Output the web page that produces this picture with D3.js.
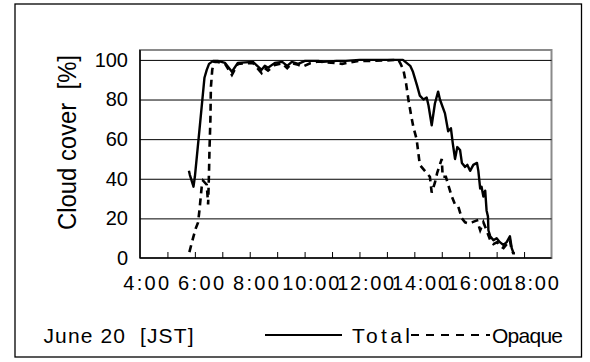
<!DOCTYPE html>
<html>
<head>
<meta charset="utf-8">
<script src="https://cdn.jsdelivr.net/npm/d3@7"></script>
<style>
  html, body { margin: 0; padding: 0; background: #fff; }
  svg { display: block; }
  text { font-family: "Liberation Sans", Arial, sans-serif; fill: #000; }
</style>
</head>
<body>
<svg id="chart" width="590" height="362"></svg>
<script>
// Cloud cover through the day, June 20 (JST)
const totalTimes = ["5:17","5:19","5:27","5:30","5:41","5:51","5:56","6:01","6:10","6:20","6:36","6:51","7:04","7:37","7:56","8:03","8:10","8:25","8:41","8:52","9:02","9:16","9:31","10:00","10:10","10:40","11:00","11:30","12:00","12:30","13:05","13:21","13:27","13:36","13:42","13:50","13:57","14:01","14:08","14:15","14:22","14:26","14:37","14:44","14:50","14:54","14:59","15:04","15:10","15:14","15:21","15:26","15:32","15:39","15:47","15:50","15:54","15:57","16:01","16:05","16:08","16:11","16:12","16:16","16:23","16:30","16:37","16:45","16:52","16:59","17:03","17:07","17:10"];
const totalValues = [44,42,36,41,67,91,95,98,99.5,99.5,98.5,94,98.5,99,95,97,96,98.5,99,97,99,98,99.5,99.5,99,99.5,99.5,100,100,100,100,97,94,87,82,80,81,77,67,78,84,80,73,64,65.5,58,50,56,54.5,48,46,47,44,47,48,44,35,36,31,34,24,21,14,11,9,10,8,6.6,8,11,5,2.4,2.4];

const opaqueTimes = ["5:18","5:26","5:32","5:37","5:40","5:45","5:48","5:56","5:59","6:01","6:02","6:04","6:05","6:08","6:12","6:20","6:36","6:51","7:04","7:37","7:56","8:03","8:10","8:25","8:41","8:52","9:02","9:16","9:26","9:42","10:00","10:41","10:52","11:03","11:30","12:00","12:55","13:00","13:06","13:12","13:17","13:23","13:28","13:35","13:42","13:53","14:04","14:08","14:15","14:20","14:30","14:32","14:39","14:44","14:52","14:59","15:06","15:14","15:21","15:28","15:36","15:47","15:54","16:01","16:08","16:16","16:23","16:31","16:37","16:45","16:52","16:59","17:03","17:07"];
const opaqueValues = [3,10,15,18,24,36,39,37,27,44,55,70,86,95,99,99,98,92.4,98,98.5,93.3,95.8,94.6,97.5,98.3,95.8,98.3,97.5,96.6,98.3,99.2,98.3,98,98.5,99.5,99.5,100,98,95,88,80,72,66,60,47,44,41,33,38,43,50,41,41,37,31,27,26,20,18,17.5,18,19,14,18,14,9,7,8,6,5,7,9,4,2];

const yTicks = [0, 20, 40, 60, 80, 100];
const xLabels = ["4:00","6:00","8:00","10:00","12:00","14:00","16:00","18:00"];
const xTickMarks = ["4:30","5:30","6:30","7:30","8:30","9:30","10:30","11:30","12:30","13:30","14:30","15:30","16:30","17:30"];
const seriesNames = ["Total", "Opaque"];
const yTitle = "Cloud cover  [%]";
const dateTitle = "June 20  [JST]";

const toMin = s => { const [h, m] = s.split(":").map(Number); return h * 60 + m; };

const svg = d3.select("#chart");

// outer frame
svg.append("rect")
  .attr("x", 15).attr("y", 4).attr("width", 566.5).attr("height", 353)
  .attr("fill", "#fff").attr("stroke", "#000").attr("stroke-width", 1.3);

const plot = { left: 140, right: 551.5, top: 50, bottom: 258 };

const x = d3.scaleLinear().domain([toMin("3:30"), toMin("18:30")]).range([plot.left, plot.right]);
const y = d3.scaleLinear().domain([0, 105]).range([plot.bottom, plot.top]);

// plot area border
svg.append("rect")
  .attr("x", plot.left).attr("y", plot.top)
  .attr("width", plot.right - plot.left).attr("height", plot.bottom - plot.top)
  .attr("fill", "#fff").attr("stroke", "#8a8a8a").attr("stroke-width", 2);

// horizontal gridlines
const grid = svg.append("g").attr("transform", `translate(${plot.left},0)`)
  .call(d3.axisLeft(y).tickValues(yTicks.filter(v => v > 0)).tickSize(-(plot.right - plot.left)).tickFormat(""));
grid.select(".domain").remove();
grid.selectAll("line").attr("stroke", "#000").attr("stroke-width", 1);

// y tick labels
const yAxis = svg.append("g").attr("transform", `translate(${plot.left},0)`)
  .call(d3.axisLeft(y).tickValues(yTicks).tickSize(0).tickPadding(12));
yAxis.select(".domain").remove();
yAxis.selectAll("text")
  .attr("font-size", 20).attr("font-family", "Liberation Sans, Arial, sans-serif");

// x tick marks (inside, upward)
const xTickG = svg.append("g").attr("transform", `translate(0,${plot.bottom})`)
  .call(d3.axisBottom(x).tickValues(xTickMarks.map(toMin)).tickSize(-6).tickFormat(""));
xTickG.select(".domain").remove();
xTickG.selectAll("line").attr("stroke", "#000").attr("stroke-width", 1);

// x labels
const xLab = svg.append("g").attr("transform", `translate(0,${plot.bottom})`)
  .call(d3.axisBottom(x).tickValues(xLabels.map(toMin)).tickSize(0).tickPadding(18)
        .tickFormat((d, i) => xLabels[i]));
xLab.select(".domain").remove();
xLab.selectAll("text")
  .attr("font-size", 20).attr("font-family", "Liberation Sans, Arial, sans-serif")
  .attr("dx", -8)
  .attr("textLength", (d, i) => xLabels[i].length > 4 ? 57 : 46)
  .attr("lengthAdjust", "spacing");

// series lines
const totalData = totalTimes.map((t, i) => [toMin(t), totalValues[i]]);
const opaqueData = opaqueTimes.map((t, i) => [toMin(t), opaqueValues[i]]);
const line = d3.line().x(d => x(d[0])).y(d => y(d[1]));

svg.append("path").datum(opaqueData)
  .attr("d", line).attr("fill", "none").attr("stroke", "#000")
  .attr("stroke-width", 2.6).attr("stroke-dasharray", "7,5");
svg.append("path").datum(totalData)
  .attr("d", line).attr("fill", "none").attr("stroke", "#000")
  .attr("stroke-width", 2.4).attr("stroke-linejoin", "round");

// axis lines
svg.append("line").attr("x1", plot.left).attr("x2", plot.left)
  .attr("y1", plot.top).attr("y2", plot.bottom).attr("stroke", "#000").attr("stroke-width", 1.5);
svg.append("line").attr("x1", plot.left).attr("x2", plot.right)
  .attr("y1", plot.bottom).attr("y2", plot.bottom).attr("stroke", "#000").attr("stroke-width", 1.5);

// y axis title
svg.append("text")
  .attr("transform", "translate(76,142.5) rotate(-90)")
  .attr("text-anchor", "middle")
  .attr("font-size", 25)
  .attr("textLength", 175).attr("lengthAdjust", "spacingAndGlyphs")
  .style("white-space", "pre")
  .text(yTitle);

// date / legend row
svg.append("text")
  .attr("x", 43.5).attr("y", 343)
  .attr("font-size", 21)
  .attr("textLength", 150).attr("lengthAdjust", "spacing")
  .style("white-space", "pre")
  .text(dateTitle);

const legend = svg.append("g");
legend.append("line").attr("x1", 265).attr("x2", 342).attr("y1", 335).attr("y2", 335)
  .attr("stroke", "#000").attr("stroke-width", 2);
legend.append("text").attr("x", 352).attr("y", 343).attr("font-size", 21)
  .attr("textLength", 58).attr("lengthAdjust", "spacing").text(seriesNames[0]);
legend.append("line").attr("x1", 411).attr("x2", 490).attr("y1", 335).attr("y2", 335)
  .attr("stroke", "#000").attr("stroke-width", 2).attr("stroke-dasharray", "8,7");
legend.append("text").attr("x", 492).attr("y", 343).attr("font-size", 21)
  .attr("textLength", 71).attr("lengthAdjust", "spacing").text(seriesNames[1]);
</script>
</body>
</html>
